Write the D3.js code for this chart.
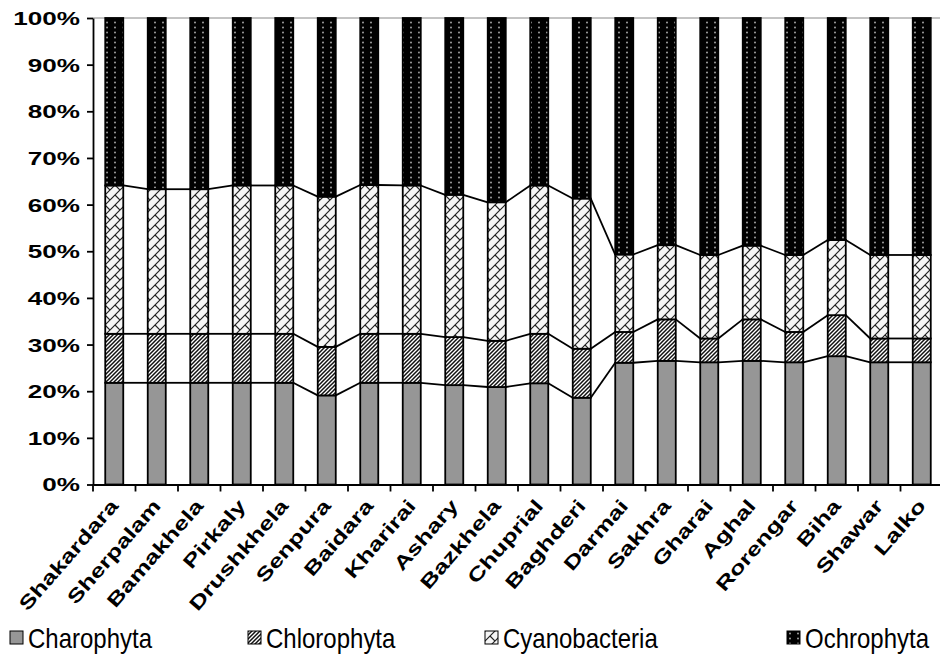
<!DOCTYPE html>
<meta charset="utf-8">
<script src="https://d3js.org/d3.v7.min.js"></script>
<style>
  body { margin: 0; background: #fff; }
  svg { font-family: "Liberation Sans", Arial, sans-serif; }
</style>
<body>
<div id="chart"></div>
<script>
  // sampling sites
  var sites = ["Shakardara", "Sherpalam", "Bamakhela", "Pirkaly", "Drushkhela", "Senpura", "Baidara",
    "Kharirai", "Ashary", "Bazkhela", "Chuprial", "Baghderi", "Darmai", "Sakhra", "Gharai", "Aghal",
    "Rorengar", "Biha", "Shawar", "Lalko"];

  // share of each phylum, %
  var charophyta    = [21.8, 21.8, 21.8, 21.8, 21.8, 19.1, 21.8, 21.8, 21.3, 20.9, 21.7, 18.6, 26.1, 26.5, 26.2, 26.5, 26.2, 27.5, 26.2, 26.2];
  var chlorophyta   = [10.5, 10.5, 10.5, 10.5, 10.5, 10.4, 10.5, 10.5, 10.3, 9.9, 10.6, 10.5, 6.6, 8.9, 5.1, 8.9, 6.5, 8.8, 5.1, 5.1];
  var cyanobacteria = [31.8, 31.0, 31.0, 31.8, 31.8, 32.2, 31.9, 31.8, 30.5, 29.7, 31.8, 32.2, 16.6, 15.9, 17.9, 15.8, 16.5, 16.1, 17.9, 17.9];
  var ochrophyta    = [35.9, 36.7, 36.7, 35.9, 35.9, 38.3, 35.8, 35.9, 37.9, 39.5, 35.9, 38.7, 50.7, 48.7, 50.8, 48.8, 50.8, 47.6, 50.8, 50.8];

  var phyla = ["Charophyta", "Chlorophyta", "Cyanobacteria", "Ochrophyta"];
  var yTicks = [0, 0.1, 0.2, 0.3, 0.4, 0.5, 0.6, 0.7, 0.8, 0.9, 1];

  var rows = sites.map(function(s, i) {
    return { site: s, Charophyta: charophyta[i], Chlorophyta: chlorophyta[i],
      Cyanobacteria: cyanobacteria[i], Ochrophyta: ochrophyta[i] };
  });

  var W = 940, H = 661;
  var plotLeft = 93, plotTop = 18, plotBottom = 484.5;
  var step = 42.5;

  var svg = d3.select("#chart").append("svg")
    .attr("width", W).attr("height", H);

  // fill patterns
  var defs = svg.append("defs");

  var p1 = defs.append("pattern").attr("id", "p-charo")
    .attr("patternUnits", "userSpaceOnUse").attr("width", 4).attr("height", 4);
  p1.append("rect").attr("width", 4).attr("height", 4).attr("fill", "#969696");

  var p2 = defs.append("pattern").attr("id", "p-chloro")
    .attr("patternUnits", "userSpaceOnUse").attr("width", 4).attr("height", 4);
  p2.append("rect").attr("width", 4).attr("height", 4).attr("fill", "#fff");
  p2.append("path").attr("d", "M-1,1 L1,-1 M0,4 L4,0 M3,5 L5,3")
    .attr("stroke", "#111").attr("stroke-width", 1.5);

  var p3 = defs.append("pattern").attr("id", "p-cyano")
    .attr("patternUnits", "userSpaceOnUse").attr("width", 10).attr("height", 10);
  p3.append("rect").attr("width", 10).attr("height", 10).attr("fill", "#f6f6f6");
  p3.append("path").attr("d", "M0,10 L10,0 M5,5 L10,10 M-1,1 L1,-1 M9,11 L11,9")
    .attr("stroke", "#222").attr("stroke-width", 1.2).attr("fill", "none");

  var p4 = defs.append("pattern").attr("id", "p-ochro")
    .attr("patternUnits", "userSpaceOnUse").attr("width", 8).attr("height", 5);
  p4.append("rect").attr("width", 8).attr("height", 5).attr("fill", "#000");
  p4.append("circle").attr("cx", 3).attr("cy", 2.5).attr("r", 0.9).attr("fill", "#b0b0b0");

  var fills = { Charophyta: "url(#p-charo)", Chlorophyta: "url(#p-chloro)",
    Cyanobacteria: "url(#p-cyano)", Ochrophyta: "url(#p-ochro)" };

  var x = d3.scaleBand().domain(sites).range([plotLeft, plotLeft + step * sites.length]).padding(0);
  var y = d3.scaleLinear().domain([0, 1]).range([plotBottom, plotTop]);
  var barW = x.bandwidth() * 0.424;

  var stack = d3.stack().keys(phyla).offset(d3.stackOffsetExpand);
  var series = stack(rows);

  // plot border top
  svg.append("line").attr("x1", plotLeft).attr("x2", W).attr("y1", plotTop).attr("y2", plotTop)
    .attr("stroke", "#888").attr("stroke-width", 1);

  // bars
  svg.selectAll("g.layer").data(series).enter().append("g")
    .attr("class", "layer")
    .attr("fill", function(d) { return fills[d.key]; })
    .selectAll("rect").data(function(d) { return d; }).enter().append("rect")
    .attr("x", function(d) { return x(d.data.site) + (x.bandwidth() - barW) / 2; })
    .attr("width", barW)
    .attr("y", function(d) { return y(d[1]); })
    .attr("height", function(d) { return y(d[0]) - y(d[1]); })
    .attr("stroke", "#000").attr("stroke-width", 1.8);

  // series lines between bars
  series.slice(0, 3).forEach(function(s) {
    for (var i = 0; i < s.length - 1; i++) {
      svg.append("line")
        .attr("x1", x(sites[i]) + (x.bandwidth() + barW) / 2)
        .attr("x2", x(sites[i + 1]) + (x.bandwidth() - barW) / 2)
        .attr("y1", y(s[i][1])).attr("y2", y(s[i + 1][1]))
        .attr("stroke", "#000").attr("stroke-width", 1.8);
    }
  });

  // Y axis
  var yAxis = svg.append("g").attr("transform", "translate(" + plotLeft + ",0)")
    .call(d3.axisLeft(y).tickValues(yTicks).tickFormat(d3.format(".0%")).tickSize(6).tickSizeOuter(0));
  yAxis.select(".domain").attr("stroke", "#000").attr("stroke-width", 1.8);
  yAxis.selectAll(".tick line").attr("stroke", "#000").attr("stroke-width", 1.8);
  yAxis.selectAll(".tick text")
    .attr("x", -9).attr("dy", "0.36em")
    .attr("transform", "scale(1.45,1)")
    .style("font-size", "18px").style("font-weight", "bold")
    .style("font-family", "'Liberation Sans', Arial, sans-serif").attr("fill", "#000");

  // X axis
  var xAxis = svg.append("g").attr("transform", "translate(0," + plotBottom + ")")
    .call(d3.axisBottom(x).tickSize(0).tickSizeOuter(0));
  xAxis.select(".domain").attr("stroke", "#000").attr("stroke-width", 1.8);
  xAxis.selectAll(".tick text")
    .attr("y", 0).attr("dy", 0)
    .attr("text-anchor", "end")
    .attr("transform", "translate(5,22) rotate(-49) scale(1.35,1)")
    .style("font-size", "19px").style("font-weight", "bold")
    .style("font-family", "'Liberation Sans', Arial, sans-serif").attr("fill", "#000");

  // tick marks at band edges
  xAxis.selectAll("line.edge").data(sites).enter().append("line")
    .attr("class", "edge")
    .attr("x1", function(d) { return x(d); }).attr("x2", function(d) { return x(d); })
    .attr("y1", 0).attr("y2", 7)
    .attr("stroke", "#000").attr("stroke-width", 1.8);

  // legend
  var legX = [10, 248, 485, 787];
  var leg = svg.selectAll("g.leg").data(phyla).enter().append("g")
    .attr("class", "leg")
    .attr("transform", function(d, i) { return "translate(" + legX[i] + ",631)"; });
  leg.append("rect").attr("width", 13).attr("height", 13)
    .attr("fill", function(d) { return fills[d]; })
    .attr("stroke", "#000").attr("stroke-width", 1);
  leg.append("text").attr("x", 18).attr("y", 16)
    .attr("transform", "scale(1,1.15)")
    .attr("transform-origin", "0 8")
    .style("font-size", "24px").attr("fill", "#000")
    .text(function(d) { return d; });
</script>
</body>
